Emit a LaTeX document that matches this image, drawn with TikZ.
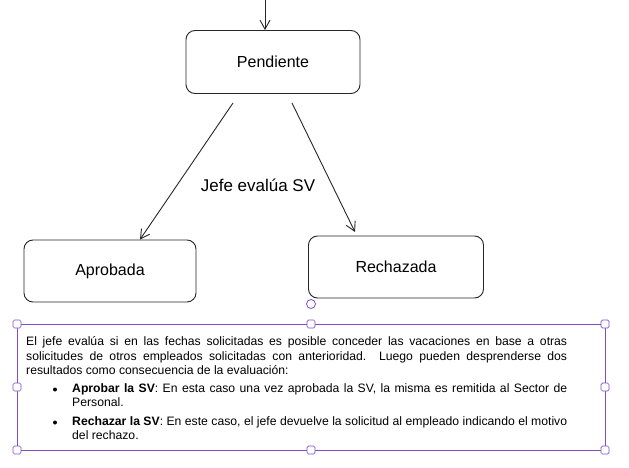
\documentclass[tikz,border=0pt]{standalone}
\usepackage{fontspec}
\setmainfont{Liberation Sans}
\usetikzlibrary{arrows.meta}
\begin{document}
\begin{tikzpicture}[x=1pt,y=-1pt,
  sbox/.style={draw=black!85,line width=0.9pt,rounded corners=9pt,font=\fontsize{16}{18}\selectfont},
  arr/.style={draw=black!85,line width=0.9pt,-{Straight Barb[length=9pt,width=10pt]}},
  hdl/.style={draw=violet!60!blue!70,fill=white,line width=0.7pt,rounded corners=1.5pt,minimum size=8pt,inner sep=0pt},
  body/.style={font=\fontsize{12.2}{14.9}\selectfont,align=justify,inner sep=0pt,execute at begin node={\hyphenpenalty=10000\relax}}]
\useasboundingbox (0,0) rectangle (629,468);
\coordinate (top) at (265,0);
\node[sbox,minimum width=174pt,minimum height=63pt] (pend) at (273,62) {Pendiente};
\node[sbox,minimum width=172pt,minimum height=62pt] (apr) at (110,271) {Aprobada};
\node[sbox,minimum width=175pt,minimum height=62pt] (rech) at (396,267) {Rechazada};
\draw[arr] (top) -- (pend.north -| top);
\draw[arr] (233,103) -- (apr.north -| 140,0) ;
\draw[arr] (292,103) -- (355,232);
\node[font=\fontsize{17}{19}\selectfont] (lab) at (258,185) {Jefe evalúa SV};
% selection frame
\draw[violet!60!blue!70,line width=0.8pt] (17,324) rectangle (605,450);
\foreach \x in {17,311,605}{\foreach \y in {324,450}{\node[hdl] at (\x,\y) {};}}
\node[hdl] at (17,387) {}; \node[hdl] at (605,387) {};
\draw[violet!60!blue!70,fill=white,line width=0.8pt] (311,304) circle (4.5pt);
\node[body,text width=541pt,anchor=north west] (t1) at (26,336) {El jefe evalúa si en las fechas solicitadas es posible conceder las vacaciones en base a otras\linebreak solicitudes de otros empleados solicitadas con anterioridad.\ \ Luego pueden desprenderse dos\linebreak resultados como consecuencia de la evaluación:};
\fill (55,389.5) circle (2pt) coordinate (b1);
\node[body,text width=495pt,anchor=north west] (t2) at (72,383) {\textbf{Aprobar la SV}: En esta caso una vez aprobada la SV, la misma es remitida al Sector de\linebreak Personal.};
\fill (55,422.5) circle (2pt) coordinate (b2);
\node[body,text width=495pt,anchor=north west] (t3) at (72,416) {\textbf{Rechazar la SV}: En este caso, el jefe devuelve la solicitud al empleado indicando el motivo\linebreak del rechazo.};
\end{tikzpicture}
\end{document}
